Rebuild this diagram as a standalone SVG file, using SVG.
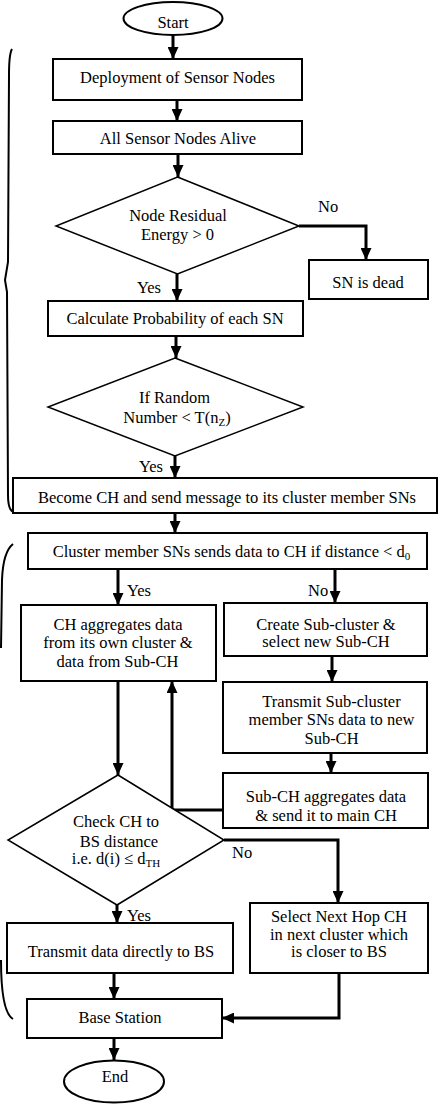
<svg xmlns="http://www.w3.org/2000/svg" width="440" height="1104" viewBox="0 0 440 1104">
<defs>
<style>
.box{fill:#fff;stroke:#000;stroke-width:2}
.dia{fill:#fff;stroke:#000;stroke-width:1.5}
.t{font-family:"Liberation Serif","Times New Roman",serif;font-size:16.5px;fill:#000;text-anchor:middle}
.l{font-family:"Liberation Serif","Times New Roman",serif;font-size:16.5px;fill:#000}
.sub{font-size:11px}
.c{fill:none;stroke:#000;stroke-width:3;marker-end:url(#ah)}
.br{fill:none;stroke:#000;stroke-width:2}
</style>
<marker id="ah" markerUnits="userSpaceOnUse" markerWidth="12" markerHeight="11" refX="12" refY="5.5" orient="auto">
<path d="M0,0 L12,5.5 L0,11 z" fill="#000"/>
</marker>
</defs>
<rect width="440" height="1104" fill="#fff"/>

<g id="braces">
<path class="br" d="M12,49 Q9,54 9,75 L8,262 L5,280 L7,292 L8,495 Q8,511 14,512"/>
<path class="br" d="M13,544 Q3,552 2,580 L1,648"/>
<path class="br" d="M1,960 Q1,1012 13,1019"/>
</g>

<g id="connectors">
<path class="c" d="M173,35 L173,59"/>
<path class="c" d="M177,100 L177,121"/>
<path class="c" d="M178,154 L178,177"/>
<path class="c" d="M299,226 L366,226 L366,260"/>
<path class="c" d="M177,274 L177,301"/>
<path class="c" d="M176,336 L176,358"/>
<path class="c" d="M175,456 L175,478"/>
<path class="c" d="M175,513 L175,533"/>
<path class="c" d="M118,569 L118,605"/>
<path class="c" d="M335,569 L335,603"/>
<path class="c" d="M332,656 L332,682"/>
<path class="c" d="M118,681 L118,775"/>
<path class="c" d="M223,810 L172,810 L172,681"/>
<path class="c" d="M331,753 L331,773"/>
<path class="c" d="M224,840 L338,840 L338,903"/>
<path class="c" d="M117,905 L117,923"/>
<path class="c" d="M114,973 L114,999"/>
<path class="c" d="M339,973 L339,1018 L222,1018"/>
<path class="c" d="M114,1038 L114,1060"/>
<text class="l" x="318" y="212">No</text>
<text class="l" x="137" y="293">Yes</text>
<text class="l" x="139" y="472">Yes</text>
<text class="l" x="127" y="596">Yes</text>
<text class="l" x="308" y="596">No</text>
<text class="l" x="232" y="858">No</text>
<text class="l" x="127" y="921">Yes</text>
</g>

<g id="start">
<ellipse class="box" cx="173" cy="18.5" rx="49.5" ry="16.5"/>
<text class="t" x="173" y="28">Start</text>
</g>
<g id="deploy">
<rect class="box" x="53" y="59" width="249" height="41"/>
<text class="t" x="177.5" y="83">Deployment of Sensor Nodes</text>
</g>
<g id="alive">
<rect class="box" x="53" y="121" width="249" height="33"/>
<text class="t" x="178" y="144">All Sensor Nodes Alive</text>
</g>
<g id="energy">
<polygon class="dia" points="177.5,177 299,226 177.5,274 56,226"/>
<text class="t" x="178" y="221">Node Residual</text>
<text class="t" x="177.5" y="240">Energy &gt; 0</text>
</g>
<g id="dead">
<rect class="box" x="309" y="260" width="119" height="39"/>
<text class="t" x="368" y="288">SN is dead</text>
</g>
<g id="calc">
<rect class="box" x="48" y="301" width="255" height="35"/>
<text class="t" x="175" y="324">Calculate Probability of each SN</text>
</g>
<g id="random">
<polygon class="dia" points="175,358 303,407 175,456 48,407"/>
<text class="t" x="174.5" y="403">If Random</text>
<text class="t" x="177" y="423">Number &lt; T(n<tspan class="sub" dy="3">Z</tspan><tspan dy="-3">)</tspan></text>
</g>
<g id="become">
<rect class="box" x="13" y="478" width="424" height="35"/>
<text class="t" x="227" y="503">Become CH and send message to its cluster member SNs</text>
</g>
<g id="cluster">
<rect class="box" x="28" y="533" width="399" height="36"/>
<text class="t" x="231.5" y="557">Cluster member SNs sends data to CH if distance &lt; d<tspan class="sub" dy="3">0</tspan></text>
</g>
<g id="chagg">
<rect class="box" x="21" y="605" width="195" height="76"/>
<text class="t" x="118" y="630">CH aggregates data</text>
<text class="t" x="118" y="648">from its own cluster &amp;</text>
<text class="t" x="117.5" y="667">data from Sub-CH</text>
</g>
<g id="create">
<rect class="box" x="224" y="603" width="203" height="53"/>
<text class="t" x="326" y="630">Create Sub-cluster &amp;</text>
<text class="t" x="326" y="647">select new Sub-CH</text>
</g>
<g id="transmitsub">
<rect class="box" x="223" y="682" width="204" height="71"/>
<text class="t" x="331.5" y="707">Transmit Sub-cluster</text>
<text class="t" x="331.5" y="725">member SNs data to new</text>
<text class="t" x="331.5" y="744">Sub-CH</text>
</g>
<g id="subagg">
<rect class="box" x="223" y="773" width="205" height="55"/>
<text class="t" x="326" y="802">Sub-CH aggregates data</text>
<text class="t" x="326" y="821">&amp; send it to main CH</text>
</g>
<g id="check">
<polygon class="dia" points="118,775 224,840 117,905 8,840"/>
<text class="t" x="116" y="827">Check CH to</text>
<text class="t" x="119" y="847">BS distance</text>
<text class="t" x="116" y="864">i.e. d(i) ≤ d<tspan class="sub" dy="3">TH</tspan></text>
</g>
<g id="direct">
<rect class="box" x="7" y="923" width="226" height="50"/>
<text class="t" x="121" y="957">Transmit data directly to BS</text>
</g>
<g id="nexthop">
<rect class="box" x="250" y="903" width="178" height="70"/>
<text class="t" x="339" y="922">Select Next Hop CH</text>
<text class="t" x="339" y="940">in next cluster which</text>
<text class="t" x="339" y="957">is closer to BS</text>
</g>
<g id="base">
<rect class="box" x="27" y="999" width="195" height="39"/>
<text class="t" x="120" y="1023">Base Station</text>
</g>
<g id="end">
<ellipse class="box" cx="114" cy="1081.5" rx="50" ry="21"/>
<text class="t" x="115" y="1082">End</text>
</g>
</svg>
